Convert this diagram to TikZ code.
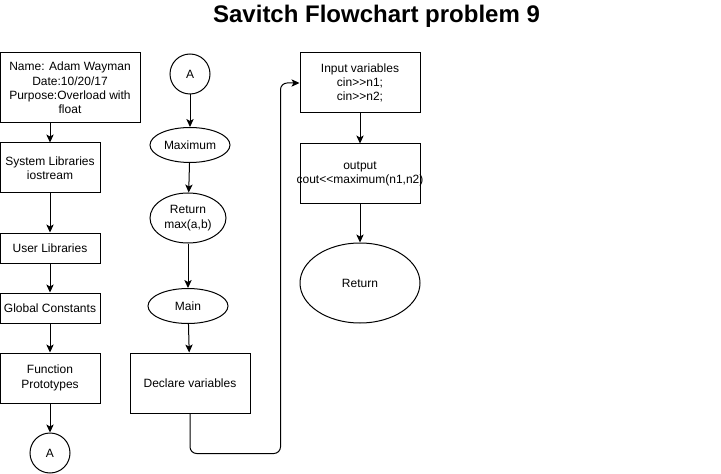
\documentclass[tikz,border=0pt]{standalone}
\usepackage{fontspec}
\setmainfont{Liberation Sans}
\usetikzlibrary{shapes.geometric,arrows.meta,calc}
\begin{document}
\begin{tikzpicture}[x=0.75pt,y=-0.75pt,
  every node/.style={font=\fontsize{9}{10.8}\selectfont, align=center, inner sep=1pt},
  box/.style={draw, line width=0.75pt, rectangle},
  oval/.style={draw, line width=0.75pt, ellipse, inner sep=0pt},
  conn/.style={draw, line width=0.75pt, circle, inner sep=0pt, minimum size=30pt},
  arr/.style={line width=0.75pt, -{Stealth[length=6pt,width=5.5pt,inset=1.5pt]}}
]
\useasboundingbox (0,0) rectangle (721,474);
\fill[white] (0,0) rectangle (721,474);
\node[font=\fontsize{18}{21}\bfseries\selectfont, anchor=base] (title) at (376.5,23) {Savitch Flowchart problem 9};

\node[box, minimum width=105pt, minimum height=52.5pt] (name) at (70,88) {Name: Adam Wayman\\Date:10/20/17\\Purpose:Overload with\\float};
\node[box, minimum width=75pt, minimum height=37.5pt] (sys) at (50,168) {System Libraries\\iostream};
\node[box, minimum width=75pt, minimum height=22.5pt] (usr) at (50,248) {User Libraries};
\node[box, minimum width=75pt, minimum height=22.5pt] (glob) at (50,308) {Global Constants};
\node[box, minimum width=75pt, minimum height=37.5pt] (func) at (50,378) {Function\\Prototypes};
\node[conn] (abot) at (50,453) {A};

\node[conn] (atop) at (190,74) {A};
\node[oval, minimum width=60pt, minimum height=26.25pt] (max) at (190,145) {Maximum};
\node[oval, minimum width=57pt, minimum height=37.5pt] (ret1) at (188,218) {Return\\max(a,b)};
\node[oval, minimum width=60pt, minimum height=26.25pt] (main) at (188,306) {Main};
\node[box, minimum width=90pt, minimum height=45pt] (decl) at (190,383) {Declare variables};

\node[box, minimum width=90pt, minimum height=45pt] (inp) at (360,83) {Input variables\\cin>{}>n1;\\cin>{}>n2;};
\node[box, minimum width=90pt, minimum height=45pt] (out) at (360,174) {output\\\makebox[80pt][c]{cout<{}<maximum(n1,n2)}};
\node[oval, minimum width=90pt, minimum height=60pt] (ret2) at (360,283) {Return};

\draw[arr] (sys.north |- name.south) -- (sys.north);
\draw[arr] (sys) -- (usr);
\draw[arr] (usr) -- (glob);
\draw[arr] (glob) -- (func);
\draw[arr] (func) -- (abot);

\draw[arr] (atop) -- (max);
\draw[arr] (max) -- (ret1);
\draw[arr] (ret1) -- (main);
\draw[arr] (main) -- (decl);
\coordinate (bend) at ($(inp.west)+(-19,0)$);
\draw[arr, rounded corners=5pt] (decl.south) -- ++(0,40) -| (bend) -- (inp.west);

\draw[arr] (inp) -- (out);
\draw[arr] (out) -- (ret2);
\end{tikzpicture}
\end{document}
